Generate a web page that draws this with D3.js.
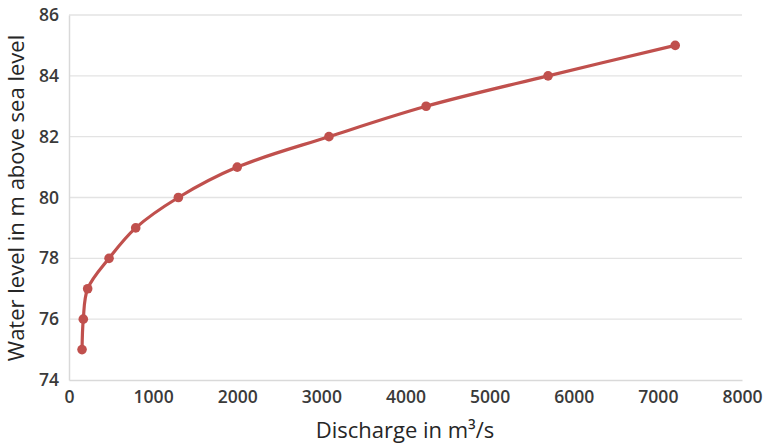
<!DOCTYPE html>
<html>
<head>
<meta charset="utf-8">
<script src="https://cdn.jsdelivr.net/npm/d3@7"></script>
<style>
  html, body { margin: 0; padding: 0; background: #fff; }
  svg { display: block; }
</style>
</head>
<body>
<svg id="chart" width="765" height="445"></svg>
<script>
// Rating curve: discharge (m³/s) vs. water level (m above sea level)
const discharge = [155, 170, 222, 476, 793, 1300, 2000, 3090, 4245, 5695, 7206];
const waterLevel = [75, 76, 77, 78, 79, 80, 81, 82, 83, 84, 85];
const xTicks = [0, 1000, 2000, 3000, 4000, 5000, 6000, 7000, 8000];
const yTicks = [74, 76, 78, 80, 82, 84, 86];

const svg = d3.select("#chart");
const margin = { left: 69, right: 23, top: 15, bottom: 65 };
const W = 765, H = 445;

const x = d3.scaleLinear().domain([0, 8000]).range([margin.left, W - margin.right]);
const y = d3.scaleLinear().domain([74, 86]).range([H - margin.bottom, margin.top]);

// horizontal gridlines
svg.append("g")
  .selectAll("line")
  .data(yTicks.filter(t => t !== 74))
  .join("line")
  .attr("x1", x(0)).attr("x2", x(8000))
  .attr("y1", d => y(d)).attr("y2", d => y(d))
  .attr("stroke", "#e3e3e3").attr("stroke-width", 1.3);

// axes
const xAxis = svg.append("g")
  .attr("transform", `translate(0,${y(74)})`)
  .call(d3.axisBottom(x).tickValues(xTicks).tickSize(0).tickPadding(11).tickFormat(d3.format("d")));
const yAxis = svg.append("g")
  .attr("transform", `translate(${x(0)},0)`)
  .call(d3.axisLeft(y).tickValues(yTicks).tickSize(0).tickPadding(10).tickFormat(d3.format("d")));

[xAxis, yAxis].forEach(g => {
  g.select(".domain").attr("stroke", "#d9d9d9").attr("stroke-width", 1.5);
  g.selectAll("text")
    .attr("fill", "#3a3a3a")
    .style("font-family", "'Open Sans', sans-serif")
    .style("font-weight", "600")
    .style("font-size", "17.5px");
});

// smoothed series line
const pts = discharge.map((d, i) => [d, waterLevel[i]]);
svg.append("path")
  .datum(pts)
  .attr("fill", "none")
  .attr("stroke", "#c0504d")
  .attr("stroke-width", 3.2)
  .attr("stroke-linejoin", "round")
  .attr("d", d3.line().x(d => x(d[0])).y(d => y(d[1])).curve(d3.curveCatmullRom.alpha(0.5)));

// markers
svg.append("g")
  .selectAll("circle")
  .data(pts)
  .join("circle")
  .attr("cx", d => x(d[0]))
  .attr("cy", d => y(d[1]))
  .attr("r", 4.8)
  .attr("fill", "#c0504d");

// axis titles
svg.append("text")
  .attr("x", 405).attr("y", 438)
  .attr("text-anchor", "middle")
  .attr("fill", "#262626")
  .style("font-family", "'Open Sans', sans-serif")
  .style("font-size", "22px")
  .text("Discharge in m³/s");

svg.append("text")
  .attr("transform", `translate(24,198) rotate(-90)`)
  .attr("text-anchor", "middle")
  .attr("fill", "#262626")
  .style("font-family", "'Open Sans', sans-serif")
  .style("font-size", "22px")
  .text("Water level in m above sea level");
</script>
</body>
</html>
